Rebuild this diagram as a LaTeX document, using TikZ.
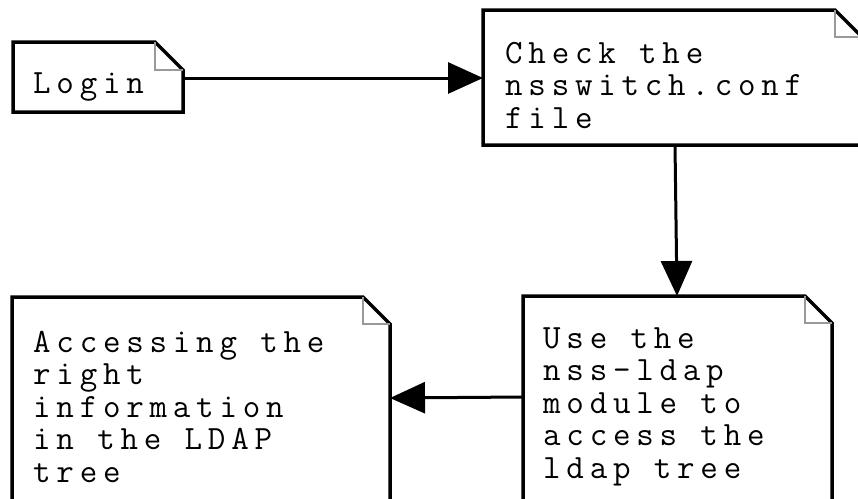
\documentclass[tikz,border=0pt]{standalone}
\usepackage{fontspec}
\usetikzlibrary{arrows.meta,calc}
\newfontfamily\courfont[LetterSpace=17]{Latin Modern Mono}
\newcommand\notetext[1]{\parbox[t]{400pt}{\raggedright\courfont\fontsize{34}{32.5}\selectfont #1}}
\newcommand\drawnote[2]{%
  \draw[noteedge] (#1.north west) -- ([xshift=-#2pt]#1.north east) -- ([yshift=-#2pt]#1.north east) -- (#1.south east) -- (#1.south west) -- cycle;
  \draw[notefold] ([xshift=-#2pt]#1.north east) |- ([yshift=-#2pt]#1.north east);}
\begin{document}
\begin{tikzpicture}[x=1pt,y=-1pt,
  boxgeom/.style={draw=none,inner sep=0pt,outer sep=0pt,rectangle},
  noteedge/.style={line width=3.5pt,black,line join=miter},
  notefold/.style={line width=2pt,gray!80},
  txt/.style={anchor=base west,inner sep=0pt},
  arr/.style={line width=3pt,-{Triangle[length=35pt,width=31pt]}}]
\useasboundingbox (0,0) rectangle (858,498);
\clip (0,0) rectangle (858,498);
% boxes
\node[boxgeom,minimum width=170pt,minimum height=70pt] (login) at (98,77) {};
\node[boxgeom,minimum width=379pt,minimum height=135pt] (check) at (672.5,77.5) {};
\node[boxgeom,minimum width=309pt,minimum height=214pt] (use) at (677.5,403) {};
\node[boxgeom,minimum width=378pt,minimum height=213pt] (acc) at (201,403.5) {};
\drawnote{login}{28}
\drawnote{check}{27}
\drawnote{use}{27}
\drawnote{acc}{27}
% texts
\node[txt] (loginT) at (33,93) {\notetext{Login}};
\node[txt] (checkT) at (505,63) {\notetext{Check the\\nsswitch.conf\\file}};
\node[txt] (useT) at (543,348) {\notetext{Use the\\nss-ldap\\module to\\access the\\ldap tree}};
\node[txt] (accT) at (33,352) {\notetext{Accessing the\\right\\information\\in the LDAP\\tree}};
% connectors
\draw[arr] ([yshift=-1pt]login.east) -- ([yshift=-1pt]login.east -| check.west);
\draw[arr] ([xshift=192pt]check.south west) -- ([xshift=154pt]use.north west);
\draw[arr] ([yshift=6pt]use.west) -- ([yshift=5.5pt]acc.east);
\end{tikzpicture}
\end{document}
